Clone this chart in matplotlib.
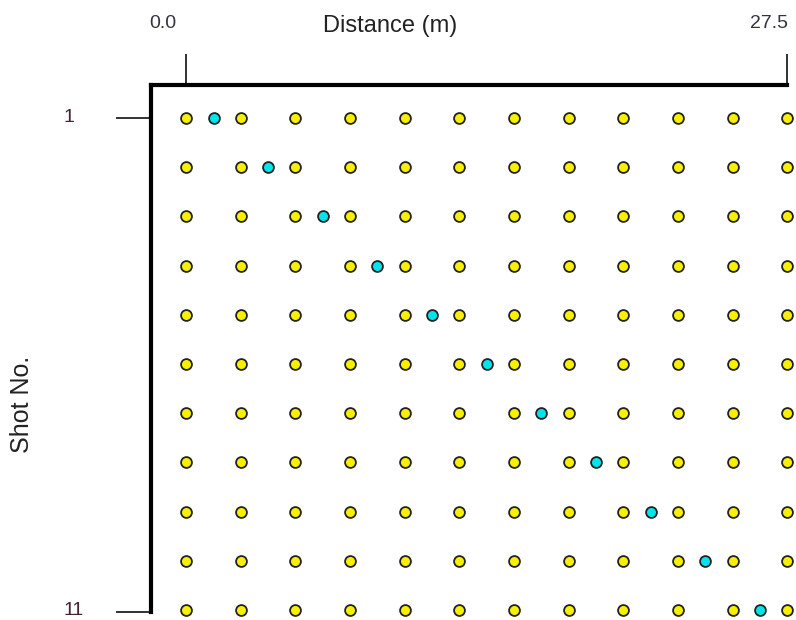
import matplotlib as mpl
import matplotlib.pyplot as plt
import matplotlib.transforms as mtransforms

mpl.rcParams['font.family'] = 'Liberation Sans'

# geophone positions along the line (m)
geophones = [0.0, 2.5, 5.0, 7.5, 10.0, 12.5, 15.0, 17.5, 20.0, 22.5, 25.0, 27.5]
# shot number and shot position (m)
shot_no = [1, 2, 3, 4, 5, 6, 7, 8, 9, 10, 11]
shot_x = [1.25, 3.75, 6.25, 8.75, 11.25, 13.75, 16.25, 18.75, 21.25, 23.75, 26.25]

fig = plt.figure(figsize=(7.96, 6.2), dpi=100)
ax = fig.add_axes([0.19, 0.013, 0.799, 0.85])

for s, sx in zip(shot_no, shot_x):
    ax.plot(geophones, [s] * len(geophones), 'o', ms=7.8, mfc='#f8f000',
            mec='#222222', mew=1.3, ls='none', clip_on=False, zorder=3)
    ax.plot([sx], [s], 'o', ms=7.8, mfc='#00e4ec', mec='#222222', mew=1.3,
            clip_on=False, zorder=3)

ax.set_xlim(-1.6, 27.5)
ax.set_ylim(11.04, 0.33)

for side in ['right', 'bottom']:
    ax.spines[side].set_visible(False)
ax.spines['top'].set_linewidth(3)
ax.spines['left'].set_linewidth(3)

ax.xaxis.tick_top()
ax.set_xticks([0.0, 27.5])
ax.set_xticklabels([])
ax.tick_params(axis='x', length=22, width=1.3, color='#222222')
ax.set_yticks([1, 11.04])
ax.set_yticklabels([])
ax.tick_params(axis='y', length=25, width=1.3, color='#222222')

# tick labels
tx = mtransforms.blended_transform_factory(ax.transData, fig.transFigure)
ax.text(-1.05, 0.962, '0.0', transform=tx, ha='center', va='center', fontsize=14, color='#333344')
ax.text(27.55, 0.962, '27.5', transform=tx, ha='right', va='center', fontsize=14, color='#333344')
ty = mtransforms.blended_transform_factory(fig.transFigure, ax.transData)
ax.text(0.086, 1, '1', transform=ty, ha='center', va='center', fontsize=14, color='#442233')
ax.text(0.092, 11.02, '11', transform=ty, ha='center', va='center', fontsize=14, color='#442233')

fig.text(0.49, 0.958, 'Distance (m)', ha='center', va='center', fontsize=17, color='#222222')
fig.text(0.028, 0.347, 'Shot No.', ha='center', va='center', rotation=90, fontsize=18, color='#222222')

plt.savefig('out.png', dpi=100)
